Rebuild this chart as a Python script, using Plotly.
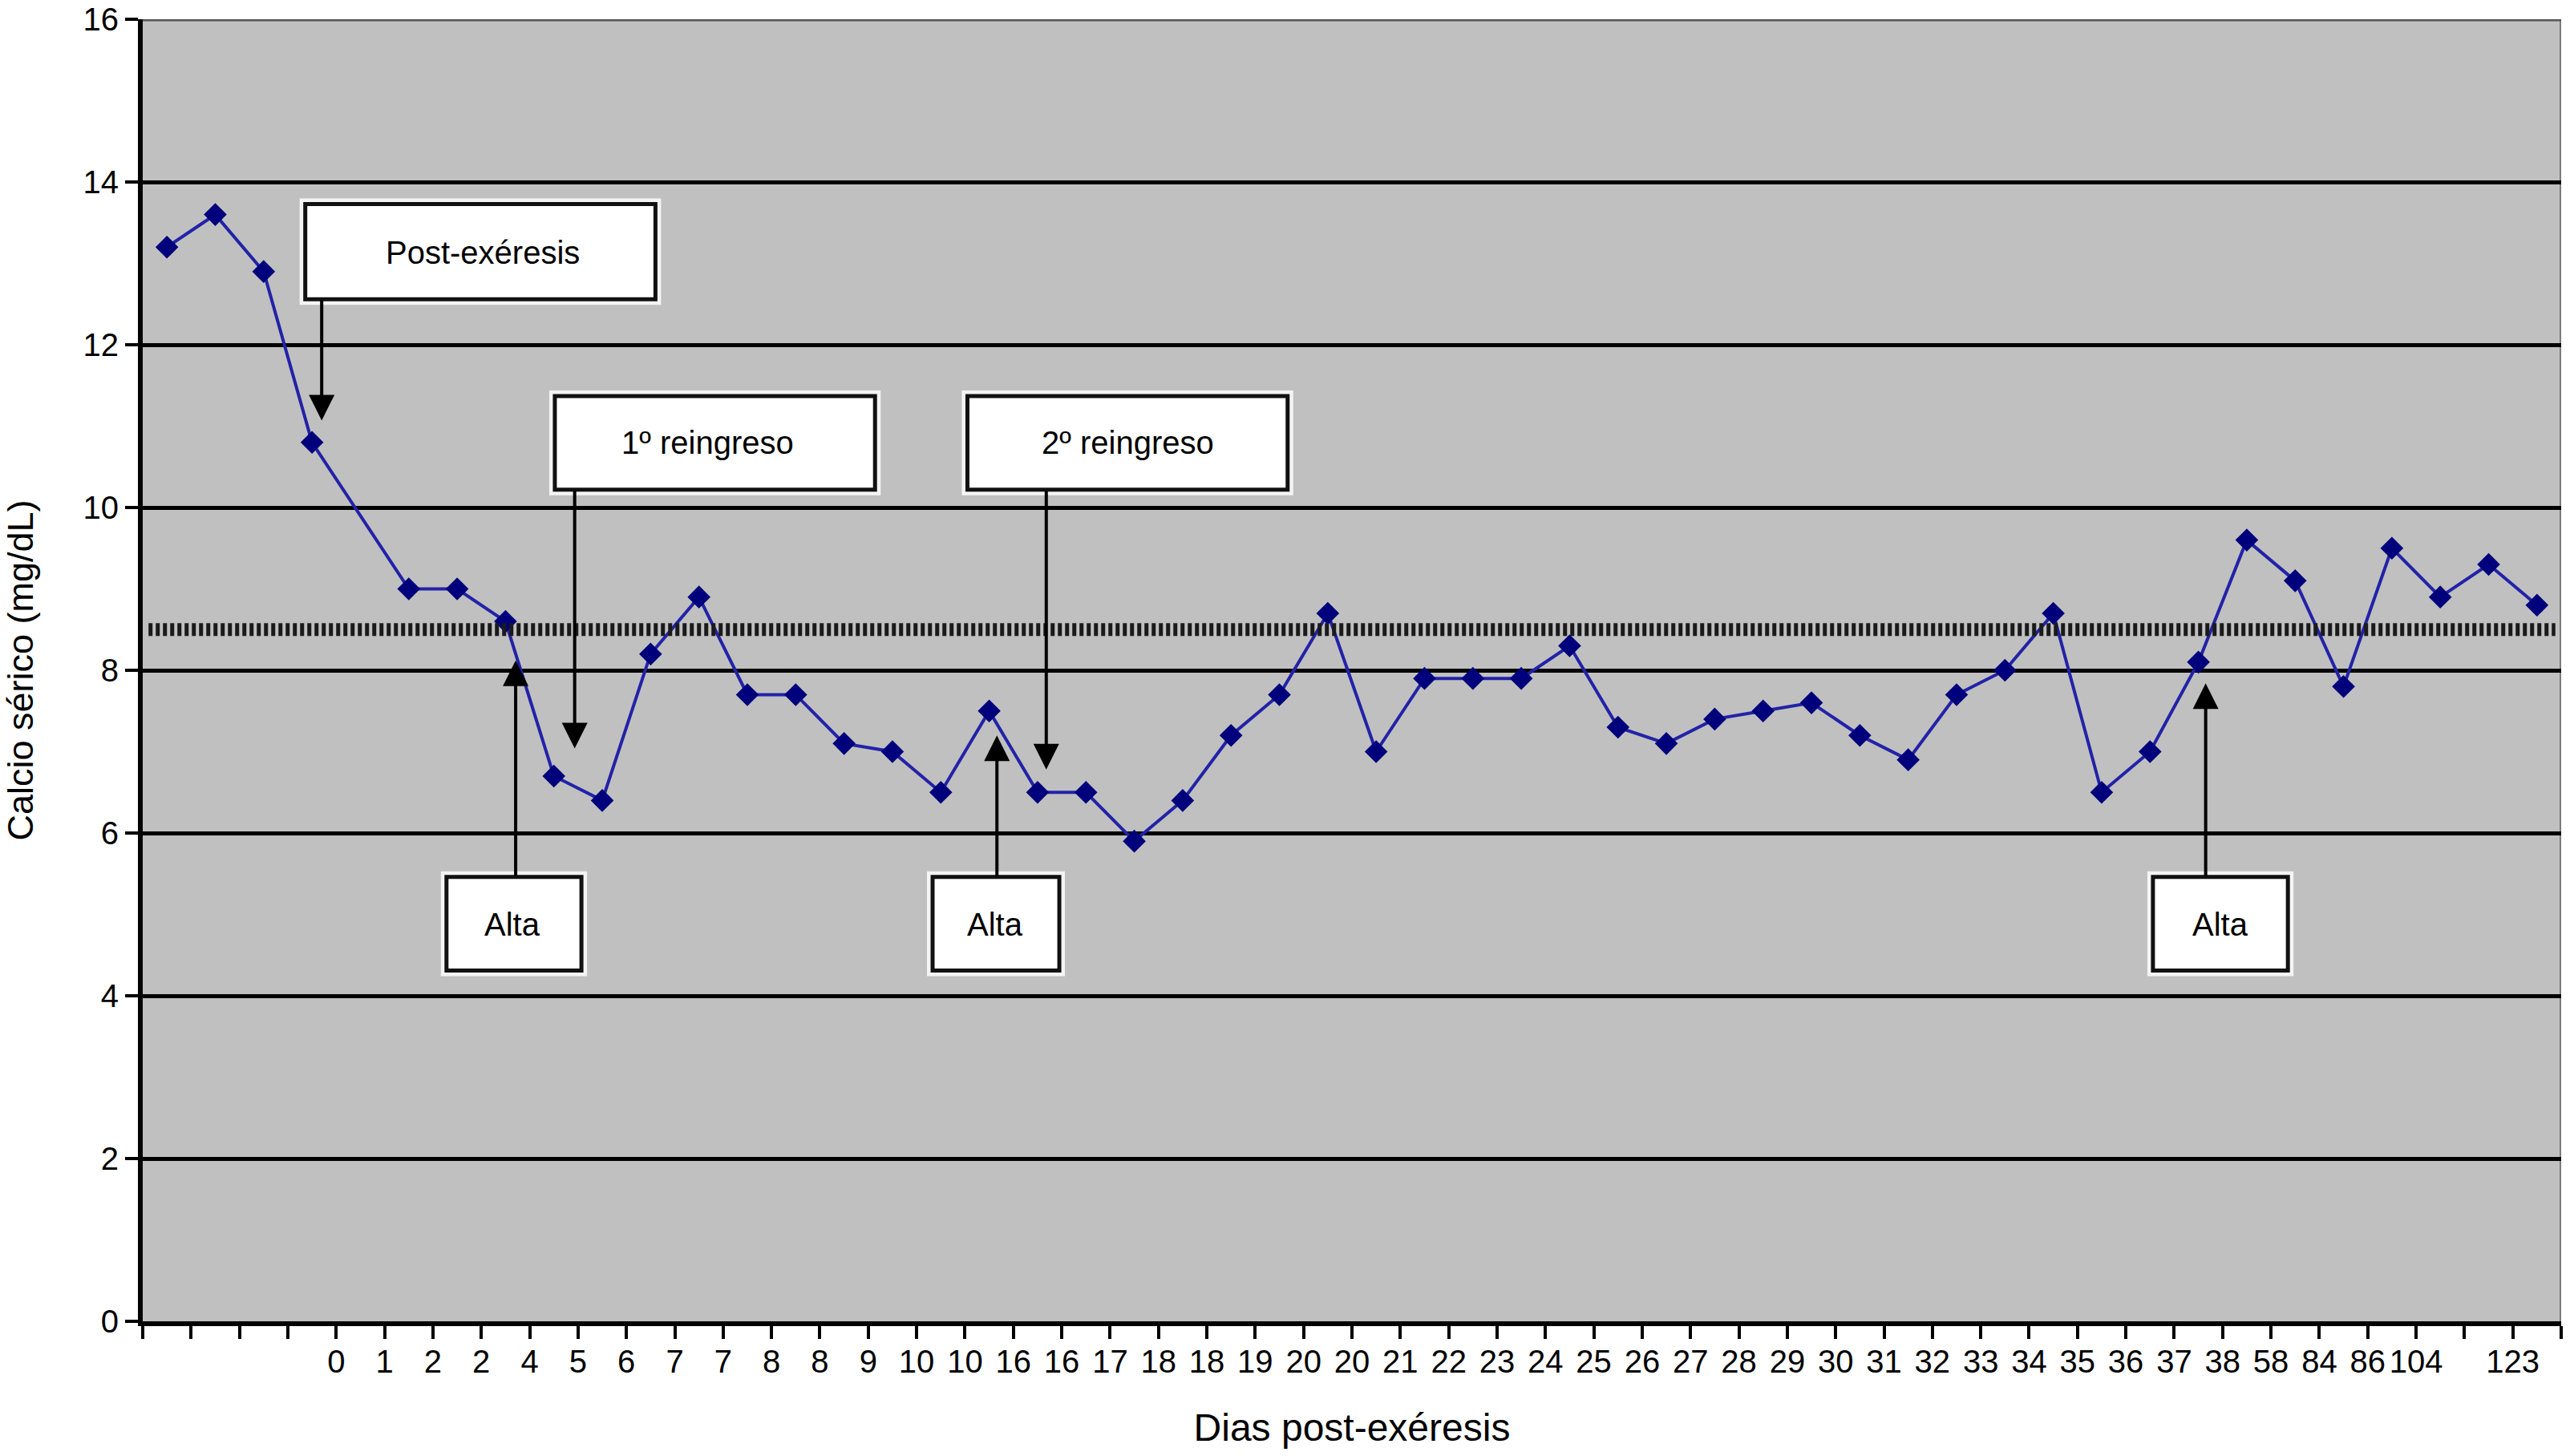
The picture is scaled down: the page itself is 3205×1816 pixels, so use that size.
import numpy as np
import plotly.graph_objects as go

# ---- data ----
calcio = [13.2, 13.6, 12.9, 10.8, None, 9.0, 9.0, 8.6, 6.7, 6.4,
          8.2, 8.9, 7.7, 7.7, 7.1, 7.0, 6.5, 7.5, 6.5, 6.5,
          5.9, 6.4, 7.2, 7.7, 8.7, 7.0, 7.9, 7.9, 7.9, 8.3,
          7.3, 7.1, 7.4, 7.5, 7.6, 7.2, 6.9, 7.7, 8.0, 8.7,
          6.5, 7.0, 8.1, 9.6, 9.1, 7.8, 9.5, 8.9, 9.3, 8.8]
dias_labels = ["", "", "", "", "0", "1", "2", "2", "4", "5", "6", "7", "7", "8", "8",
               "9", "10", "10", "16", "16", "17", "18", "18", "19", "20", "20", "21",
               "22", "23", "24", "25", "26", "27", "28", "29", "30", "31", "32", "33",
               "34", "35", "36", "37", "38", "58", "84", "86", "104", "", "123", ""]
y_ticks = [0, 2, 4, 6, 8, 10, 12, 14, 16]
limite_normal = 8.5

# events: label, box (x0, x1, y0, y1), text centre (x, y), arrow x, arrow tail y, arrow tip y
eventos = [
    ("Post-exéresis", (3.36, 10.6, 12.56, 13.73), (7.03, 13.13), 3.70, 12.56, 11.07),
    ("1º reingreso", (8.52, 15.14, 10.22, 11.37), (11.68, 10.8), 8.93, 10.22, 7.04),
    ("2º reingreso", (17.05, 23.67, 10.22, 11.37), (20.37, 10.8), 18.68, 10.22, 6.78),
    ("Alta", (6.28, 9.07, 4.31, 5.46), (7.64, 4.88), 7.71, 5.46, 8.12),
    ("Alta", (16.33, 18.95, 4.31, 5.46), (17.62, 4.88), 17.66, 5.46, 7.2),
    ("Alta", (41.56, 44.35, 4.31, 5.46), (42.95, 4.88), 42.65, 5.46, 7.84),
]

n_slots = len(calcio)
x_pos = np.arange(n_slots) + 0.5

FONT = "Liberation Sans, Arial, sans-serif"

fig = go.Figure()
fig.add_trace(go.Scatter(
    x=x_pos, y=calcio, mode="lines+markers", connectgaps=True,
    line=dict(color="#2222a8", width=4),
    marker=dict(symbol="diamond", size=22, color="#00007c",
                line=dict(color="#00007c", width=0)),
    showlegend=False, hoverinfo="skip"))

shapes = []
# right and top border of plot area
shapes.append(dict(type="line", xref="x", yref="y", x0=n_slots, x1=n_slots, y0=0, y1=16,
                   line=dict(color="#7a7a7a", width=4), layer="below"))
shapes.append(dict(type="line", xref="x", yref="y", x0=0, x1=n_slots, y0=16, y1=16,
                   line=dict(color="#555555", width=5), layer="below"))
# reference line (dotted)
shapes.append(dict(type="line", xref="x", yref="y", x0=0.12, x1=n_slots - 0.12,
                   y0=limite_normal, y1=limite_normal,
                   line=dict(color="#1a1a1a", width=16, dash="5px,4px"), layer="above"))

annotations = []
for label, (bx0, bx1, by0, by1), (tx, ty), axx, tail, tip in eventos:
    annotations.append(dict(x=axx, y=tip, ax=axx, ay=tail, xref="x", yref="y",
                            axref="x", ayref="y", text="", showarrow=True,
                            arrowhead=2, arrowsize=1.6, arrowwidth=4,
                            arrowcolor="black", standoff=0, startstandoff=0))
for label, (bx0, bx1, by0, by1), (tx, ty), axx, tail, tip in eventos:
    shapes.append(dict(type="rect", xref="x", yref="y", x0=bx0, x1=bx1, y0=by0, y1=by1,
                       fillcolor="white", line=dict(color="#f4f4f4", width=14),
                       layer="above"))
    shapes.append(dict(type="rect", xref="x", yref="y", x0=bx0, x1=bx1, y0=by0, y1=by1,
                       fillcolor="white", line=dict(color="#111111", width=5),
                       layer="above"))
    annotations.append(dict(x=tx, y=ty, xref="x", yref="y", text=label, showarrow=False,
                            font=dict(family=FONT, size=40, color="black")))

fig.update_layout(
    width=3205, height=1816,
    margin=dict(l=178, r=11, t=24, b=168),
    paper_bgcolor="white", plot_bgcolor="#c0c0c0",
    shapes=shapes, annotations=annotations,
    font=dict(family=FONT, color="black"),
)
fig.update_xaxes(
    range=[0, n_slots], tickmode="array",
    tickvals=list(range(len(dias_labels))), ticktext=dias_labels, tickangle=0,
    ticks="outside", ticklen=16, tickwidth=4, tickcolor="black",
    tickfont=dict(family=FONT, size=40, color="black"), ticklabelstandoff=-6,
    showgrid=False, zeroline=False, showline=True, linecolor="black", linewidth=6,
    automargin=False,
    title=dict(text="Dias post-exéresis", font=dict(family=FONT, size=48, color="black"),
               standoff=46),
)
fig.update_yaxes(
    range=[0, 16], tickmode="array", tickvals=y_ticks,
    ticks="outside", ticklen=16, tickwidth=4, tickcolor="black",
    tickfont=dict(family=FONT, size=40, color="black"),
    showgrid=True, gridcolor="black", gridwidth=5,
    zeroline=False, showline=True, linecolor="black", linewidth=6,
    automargin=False,
    title=dict(text="Calcio sérico (mg/dL)", font=dict(family=FONT, size=45, color="black"),
               standoff=52),
)

# remove the default page margin so the figure fills the window exactly
fig.write_html("out.html", config={"displayModeBar": False},
               post_script="document.body.style.margin='0';")
